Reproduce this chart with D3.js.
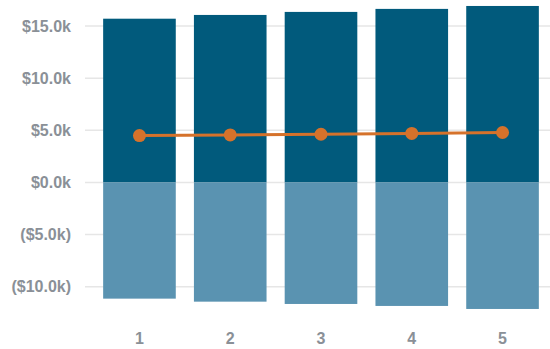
<!DOCTYPE html>
<html>
<head>
<meta charset="utf-8">
<script src="https://cdn.jsdelivr.net/npm/d3@7"></script>
<style>
  html, body { margin: 0; padding: 0; background: #ffffff; }
  svg { display: block; }
  text { font-family: "Liberation Sans", Arial, Helvetica, sans-serif; font-weight: bold; fill: #8a9097; }
</style>
</head>
<body>
<div id="chart"></div>
<script>
const categories = ["1", "2", "3", "4", "5"];
const positiveValues = [15700, 16060, 16350, 16640, 16920];
const negativeValues = [-11140, -11430, -11650, -11840, -12130];
const lineValues = [4490, 4560, 4620, 4700, 4790];
const yTicks = [-10000, -5000, 0, 5000, 10000, 15000];

const W = 550, H = 349;
const svg = d3.select("#chart").append("svg").attr("width", W).attr("height", H);

const x = d3.scaleBand().domain(categories).range([85, 557]).paddingInner(0.2).paddingOuter(0.2);
const y = d3.scaleLinear().domain([-15000, 15000]).range([338.9, 26]);

function fmt(v) {
  const s = "$" + (Math.abs(v) / 1000).toFixed(1) + "k";
  return v < 0 ? "(" + s + ")" : s;
}

// gridlines
svg.append("g").selectAll("line").data(yTicks).join("line")
  .attr("x1", 85).attr("x2", W)
  .attr("y1", d => y(d)).attr("y2", d => y(d))
  .attr("stroke", "#e6e6e6").attr("stroke-width", 1.5);

// y axis labels
const yAxis = d3.axisLeft(y).tickValues(yTicks).tickFormat(fmt).tickSize(0).tickPadding(0);
const gy = svg.append("g").attr("transform", "translate(71,0)").call(yAxis);
gy.select(".domain").remove();
gy.selectAll("text").attr("font-size", 16).style("font-family", "'Liberation Sans', Arial, sans-serif").style("font-weight", "bold").attr("fill", "#8a9097");

// bars
svg.append("g").selectAll("rect").data(categories).join("rect")
  .attr("x", d => x(d)).attr("width", x.bandwidth())
  .attr("y", (d, i) => y(positiveValues[i]))
  .attr("height", (d, i) => y(0) - y(positiveValues[i]))
  .attr("fill", "#015a7c");

svg.append("g").selectAll("rect").data(categories).join("rect")
  .attr("x", d => x(d)).attr("width", x.bandwidth())
  .attr("y", y(0))
  .attr("height", (d, i) => y(negativeValues[i]) - y(0))
  .attr("fill", "#5a93b1");

// line
const pts = categories.map((c, i) => [x(c) + x.bandwidth() / 2, y(lineValues[i])]);
svg.append("path").attr("d", d3.line()(pts))
  .attr("fill", "none").attr("stroke", "#d5722b").attr("stroke-width", 3);
svg.append("g").selectAll("circle").data(pts).join("circle")
  .attr("cx", d => d[0]).attr("cy", d => d[1]).attr("r", 6.5)
  .attr("fill", "#d5722b");

// x axis labels
const xAxis = d3.axisBottom(x).tickSize(0).tickPadding(0);
const gx = svg.append("g").attr("transform", "translate(0,333)").call(xAxis);
gx.select(".domain").remove();
gx.selectAll("text").attr("font-size", 16).style("font-family", "'Liberation Sans', Arial, sans-serif").style("font-weight", "bold").attr("fill", "#8a9097");
</script>
</body>
</html>
